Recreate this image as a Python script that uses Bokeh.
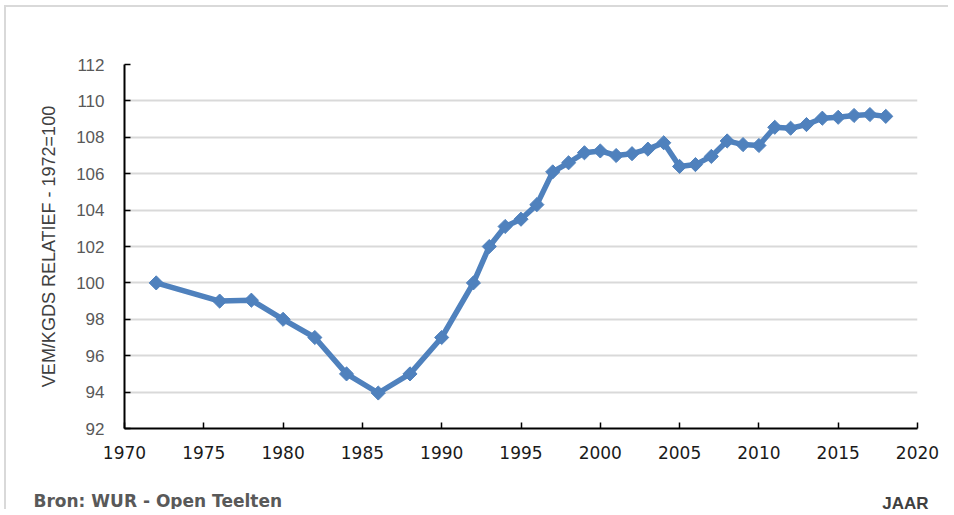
from math import pi
from bokeh.plotting import figure
from bokeh.models import Range1d, Label, FixedTicker
from bokeh.embed import file_html
from bokeh.resources import INLINE

years = [1972, 1976, 1978, 1980, 1982, 1984, 1986, 1988, 1990, 1992,
         1993, 1994, 1995, 1996, 1997, 1998, 1999, 2000, 2001, 2002,
         2003, 2004, 2005, 2006, 2007, 2008, 2009, 2010, 2011, 2012,
         2013, 2014, 2015, 2016, 2017, 2018]
values = [100.0, 99.0, 99.05, 98.0, 97.0, 95.0, 93.95, 95.0, 97.0, 100.0,
          102.0, 103.1, 103.5, 104.3, 106.1, 106.6, 107.15, 107.25, 107.0, 107.1,
          107.35, 107.7, 106.4, 106.5, 106.95, 107.8, 107.6, 107.55, 108.55, 108.5,
          108.7, 109.05, 109.1, 109.2, 109.25, 109.15]
x_ticks = [1970, 1975, 1980, 1985, 1990, 1995, 2000, 2005, 2010, 2015, 2020]
y_ticks = [92, 94, 96, 98, 100, 102, 104, 106, 108, 110, 112]

y_title = "VEM/KGDS RELATIEF - 1972=100"
source_text = "Bron: WUR - Open Teelten"
x_title = "JAAR"

p = figure(width=944, height=504, output_backend="svg", toolbar_location=None,
           x_range=Range1d(1970, 2020), y_range=Range1d(92, 112),
           min_border_left=118, min_border_right=33, min_border_top=57,
           min_border_bottom=83)
p.styles = {"border-top": "2px solid #d9d9d9", "border-left": "2px solid #d9d9d9",
            "margin-left": "4px", "margin-top": "5px"}
p.outline_line_color = None
p.background_fill_color = "white"
p.border_fill_color = "white"

p.xgrid.visible = False
p.ygrid.ticker = FixedTicker(ticks=y_ticks)
p.ygrid.grid_line_color = "#d9d9d9"
p.ygrid.grid_line_width = 2

p.xaxis.ticker = FixedTicker(ticks=x_ticks)
p.yaxis.ticker = FixedTicker(ticks=y_ticks)
for ax in (p.xaxis[0], p.yaxis[0]):
    ax.axis_line_color = "black"
    ax.axis_line_width = 2
    ax.major_tick_in = 6
    ax.major_tick_out = 0
    ax.major_tick_line_color = "black"
    ax.major_tick_line_width = 1.5
    ax.minor_tick_line_color = None

p.xaxis.major_label_text_font = "DejaVu Sans"
p.xaxis.major_label_text_font_size = "17px"
p.xaxis.major_label_text_color = "#1a1a1a"
p.xaxis.major_label_standoff = 17

p.yaxis.major_label_text_font = "Liberation Sans"
p.yaxis.major_label_text_font_size = "17px"
p.yaxis.major_label_text_color = "#595959"
p.yaxis.major_label_standoff = 20
p.yaxis.axis_label = y_title
p.yaxis.axis_label_text_font = "Liberation Sans"
p.yaxis.axis_label_text_font_size = "18px"
p.yaxis.axis_label_text_font_style = "normal"
p.yaxis.axis_label_text_color = "#404040"
p.yaxis.axis_label_standoff = 14

p.line(years, values, line_color="#4f81bd", line_width=5.5)
p.scatter(years, values, marker="square", angle=pi / 4, size=10,
          fill_color="#4f81bd", line_color="#4f81bd")

# both footer texts live in the "above" side panel (not clipped to the frame);
# first item's box bottom is the frame top, second sits one label-height higher
p.add_layout(Label(x=804, y=-439, x_units="screen", y_units="screen", text=x_title,
                   text_font="Liberation Sans", text_font_size="17px",
                   text_font_style="bold", text_color="#404040",
                   text_align="right", text_baseline="middle"), "above")
p.add_layout(Label(x=-91, y=-455, x_units="screen", y_units="screen", text=source_text,
                   text_font="DejaVu Sans", text_font_size="17px",
                   text_font_style="bold", text_color="#595959",
                   text_baseline="middle"), "above")

open("out.html", "w").write(file_html(p, INLINE))
